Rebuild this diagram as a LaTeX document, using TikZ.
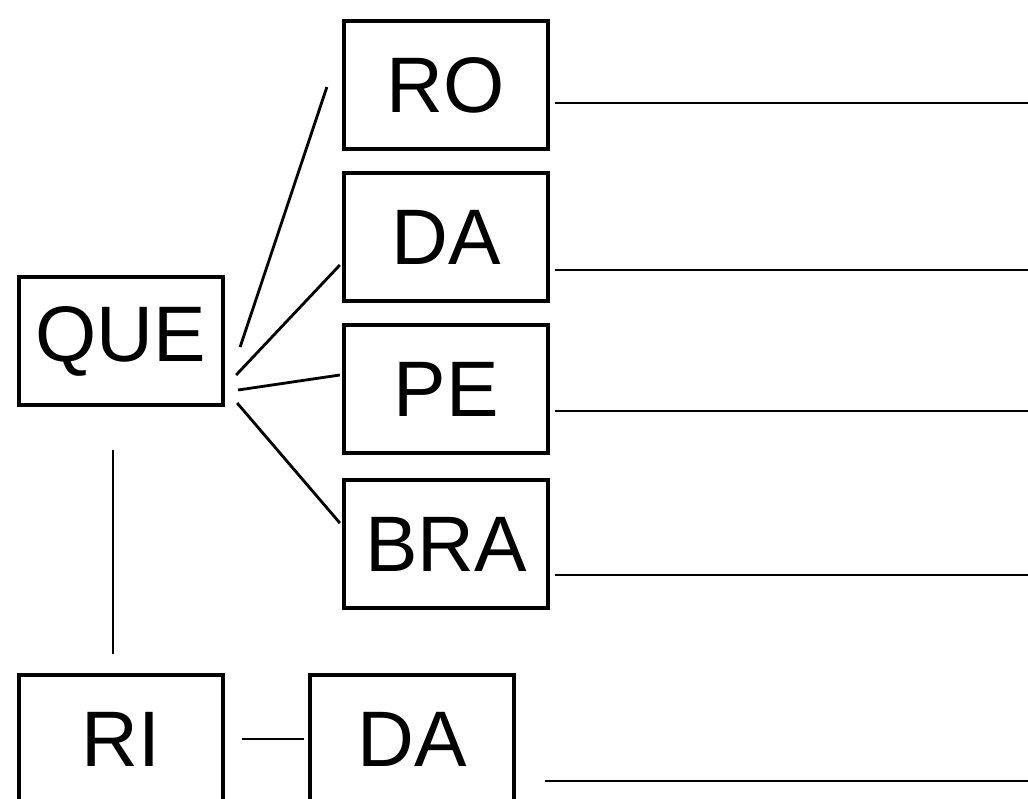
\documentclass[tikz,border=0pt]{standalone}
\usepackage{fontspec}
\setmainfont{Liberation Sans}

\begin{document}
\begin{tikzpicture}[x=0.025cm,y=-0.025cm,line width=2pt,
  box/.style={draw,line width=3pt,inner sep=0pt,minimum width=5.1cm,minimum height=3.2cm,
    font=\fontsize{56}{60}\selectfont}]
  \useasboundingbox (0,0) rectangle (1028,798);
  \node[box] (que) at (121,341) {QUE};
  \node[box] (ri) at (121,739) {RI};
  \node[box] (da2) at (412,739) {DA};
  \foreach \n/\y/\t/\ly in {ro/85/RO/103,da/237/DA/270,pe/389/PE/411,bra/544/BRA/575}
  {
    \node[box] (\n) at (446,\y) {\t};
    \coordinate (\n-end) at (1028,\ly);
    \draw (\n.east |- \n-end) ++(5,0) -- (\n-end);
  }
  \coordinate (da2-end) at (1028,781);
  \draw (da2.east |- da2-end) ++(29,0) -- (da2-end);
  \draw ([shift={(15,6)}]que.east) -- ([shift={(-15,2)}]ro.west);
  \draw ([shift={(11,34)}]que.east) -- ([shift={(-2,28)}]da.west);
  \draw ([shift={(13,49)}]que.east) -- ([shift={(-2,-14)}]pe.west);
  \draw ([shift={(12,62)}]que.east) -- ([shift={(-2,-21)}]bra.west);
  \draw ([shift={(-8,43)}]que.south) -- ([shift={(-8,-19)}]ri.north);
  \draw ([xshift=12]ri.east) -- ([xshift=-3]da2.west);
\end{tikzpicture}
\end{document}
